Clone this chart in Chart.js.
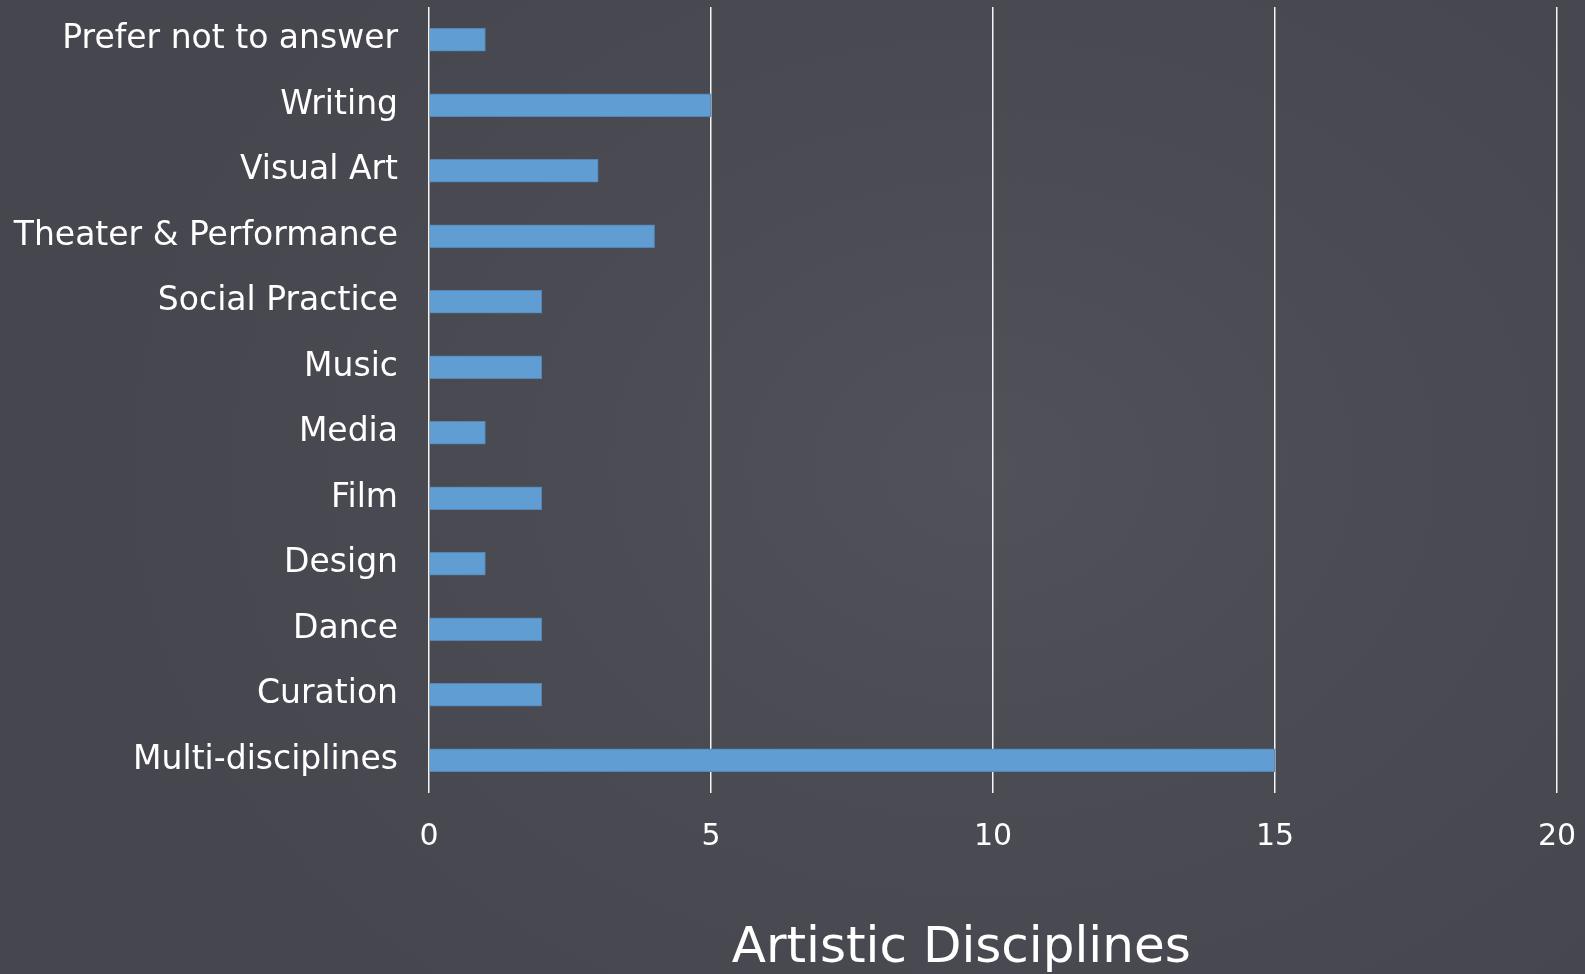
<!DOCTYPE html>
<html>
<head>
<meta charset="utf-8">
<script src="https://cdn.jsdelivr.net/npm/chart.js@4/dist/chart.umd.min.js"></script>
<style>
  html, body { margin: 0; padding: 0; }
  body {
    width: 1585px; height: 974px; overflow: hidden;
    background: radial-gradient(ellipse 900px 700px at 62% 48%, #51515a 0%, #4b4b53 45%, #46464e 100%);
  }
  #wrap { position: relative; width: 1585px; height: 974px; }
</style>
</head>
<body>
<div id="wrap"><canvas id="disciplines_plot"></canvas></div>
<script>
// categories, top to bottom
const categories = [
    "Prefer not to answer",
    "Writing",
    "Visual Art",
    "Theater & Performance",
    "Social Practice",
    "Music",
    "Media",
    "Film",
    "Design",
    "Dance",
    "Curation",
    "Multi-disciplines"
];
const counts = [1, 5, 3, 4, 2, 2, 1, 2, 1, 2, 2, 15];
const xTicks = [0, 5, 10, 15, 20];
// trailing spaces nudge the centred title a little to the left, as in the original
const axisTitle = "Artistic Disciplines    ";

const fontFamily = "'DejaVu Sans', sans-serif";

new Chart(document.getElementById("disciplines_plot"), {
    "type": "bar",
    "data": {
        "labels": categories,
        "datasets": [
            {
                "data": counts,
                "label": "count",
                "backgroundColor": "#5f9dd3",
                "borderColor": "#5584b5",
                "borderWidth": 1,
                "barThickness": 23
            }
        ]
    },
    "options": {
        "indexAxis": "y",
        "responsive": true,
        "maintainAspectRatio": false,
        "animation": false,
        "layout": { "padding": { "top": 7, "right": 28, "left": 0, "bottom": 0 } },
        "plugins": {
            "legend": { "display": false },
            "tooltip": { "enabled": false }
        },
        "scales": {
            "x": {
                "min": 0,
                "max": 20,
                "afterBuildTicks": s => { s.ticks = xTicks.map(v => ({ value: v })); },
                "afterFit": s => { s.height = 181; s.paddingLeft = 0; s.paddingRight = 0; },
                "border": { "display": false },
                "grid": {
                    "color": "rgba(255,255,255,0.95)",
                    "lineWidth": 1.5,
                    "drawTicks": false
                },
                "ticks": {
                    "color": "#ffffff",
                    "padding": 26,
                    "font": { "family": fontFamily, "size": 30 }
                },
                "title": {
                    "display": true,
                    "text": axisTitle,
                    "color": "#ffffff",
                    "padding": { "top": 0, "bottom": 0 },
                    "font": { "family": fontFamily, "size": 50, "lineHeight": 1 }
                }
            },
            "y": {
                "afterFit": s => { s.width = 429; s.paddingTop = 0; s.paddingBottom = 0; },
                "border": { "display": false },
                "grid": { "display": false, "drawTicks": false },
                "ticks": {
                    "color": "#ffffff",
                    "padding": 31,
                    "font": { "family": fontFamily, "size": 33 }
                }
            }
        }
    }
});
</script>
</body>
</html>
